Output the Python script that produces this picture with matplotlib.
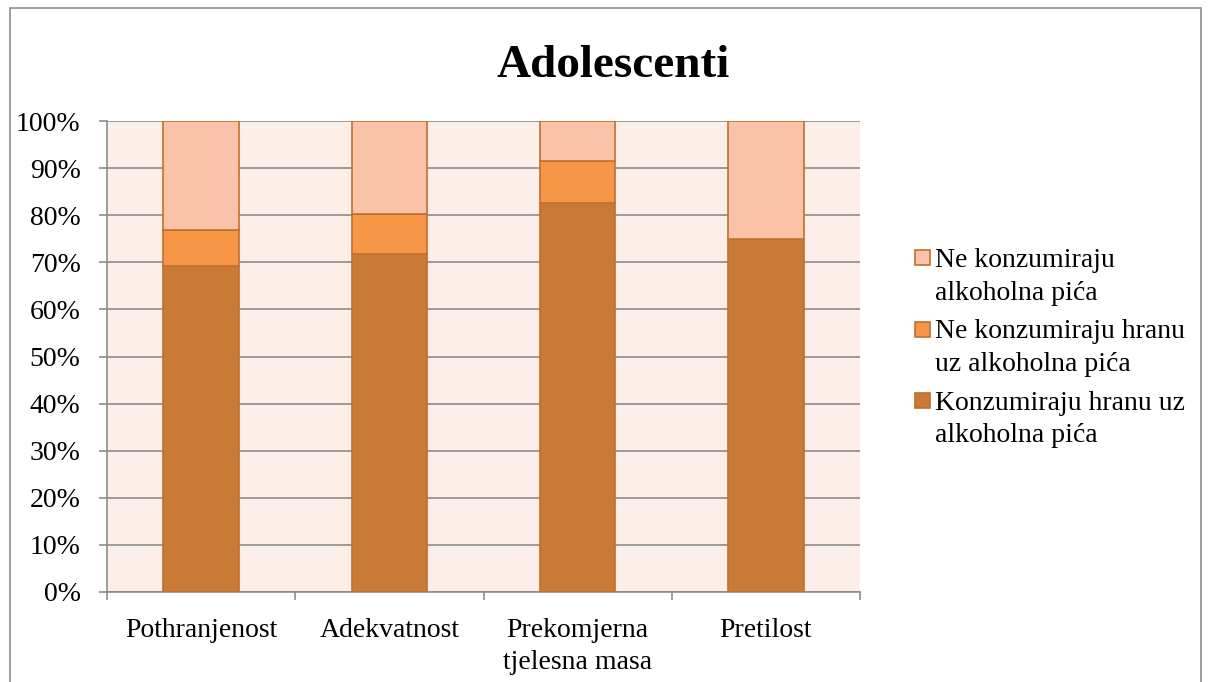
import matplotlib.pyplot as plt
from matplotlib.patches import Rectangle
from matplotlib.container import BarContainer
from matplotlib.legend_handler import HandlerPatch, update_from_first_child
from matplotlib.ticker import PercentFormatter, FixedLocator

kategorije = ["Pothranjenost", "Adekvatnost", "Prekomjerna\ntjelesna masa", "Pretilost"]
konzumiraju_hranu = [69.2, 71.8, 82.6, 75.0]
ne_konzumiraju_hranu = [7.7, 8.5, 8.9, 0.0]
ne_konzumiraju_alkohol = [23.1, 19.7, 8.5, 25.0]

serije = [
    ("Konzumiraju hranu uz\nalkoholna pića", konzumiraju_hranu, "#CA7A37"),
    ("Ne konzumiraju hranu\nuz alkoholna pića", ne_konzumiraju_hranu, "#F79646"),
    ("Ne konzumiraju\nalkoholna pića", ne_konzumiraju_alkohol, "#FAC3A8"),
]

plt.rcParams["font.family"] = ["Liberation Serif", "DejaVu Serif"]


def kvadrat_gore(legend, orig_handle, xdescent, ydescent, width, height, fontsize):
    # kvadratić uz prvi red teksta, ne u sredini
    s = 0.54 * fontsize
    return Rectangle((-xdescent, -ydescent + height / 2 + 0.42 * fontsize), s, s)


fig = plt.figure(figsize=(12.08, 6.82), dpi=100)
fig.patches.append(Rectangle((0.008, -0.01), 0.986, 0.998, transform=fig.transFigure,
                             fill=False, edgecolor="#8C8C8C", linewidth=1.2))
ax = fig.add_axes([0.0886, 0.132, 0.6233, 0.6904])
ax.set_facecolor("#FCEEE8")

x = range(len(kategorije))
dno = [0.0] * len(kategorije)
for naziv, vrijednosti, boja in serije:
    ax.bar(x, vrijednosti, width=0.4, bottom=dno, color=boja, edgecolor="#C0702E",
           linewidth=1.2, label=naziv, zorder=3)
    dno = [d + v for d, v in zip(dno, vrijednosti)]

ax.set_xlim(-0.5, len(kategorije) - 0.5)
ax.set_ylim(0, 100)
ax.set_yticks(range(0, 101, 10))
ax.yaxis.set_major_formatter(PercentFormatter(decimals=0))
ax.yaxis.grid(True, color="#8C8C8C", linewidth=1.2, zorder=0)

ax.set_xticks(list(x))
ax.set_xticklabels(kategorije, linespacing=1.35)
ax.xaxis.set_minor_locator(FixedLocator([i - 0.5 for i in range(len(kategorije) + 1)]))
ax.tick_params(axis="x", which="major", length=0, pad=19, labelsize=20)
ax.tick_params(axis="x", which="minor", length=6, color="#8C8C8C", width=1.2)
ax.tick_params(axis="y", length=6, color="#8C8C8C", width=1.2, labelsize=20, pad=13)

for s in ["top", "right"]:
    ax.spines[s].set_visible(False)
for s in ["left", "bottom"]:
    ax.spines[s].set_color("#8C8C8C")
    ax.spines[s].set_linewidth(1.2)

fig.text(0.508, 0.8875, "Adolescenti", ha="center", va="baseline", fontsize=34,
         fontweight="bold")

h, l = ax.get_legend_handles_labels()
leg = ax.legend(h[::-1], l[::-1], loc="upper left", bbox_to_anchor=(1.073, 0.73),
                frameon=False, fontsize=20, handlelength=0.54, handleheight=1.0,
                handletextpad=0.18, labelspacing=0.49, borderpad=0, borderaxespad=0,
                handler_map={BarContainer: HandlerPatch(patch_func=kvadrat_gore,
                                                        update_func=update_from_first_child)})
for t in leg.get_texts():
    t.set_linespacing(1.4)

fig.savefig("out.png", dpi=100)
